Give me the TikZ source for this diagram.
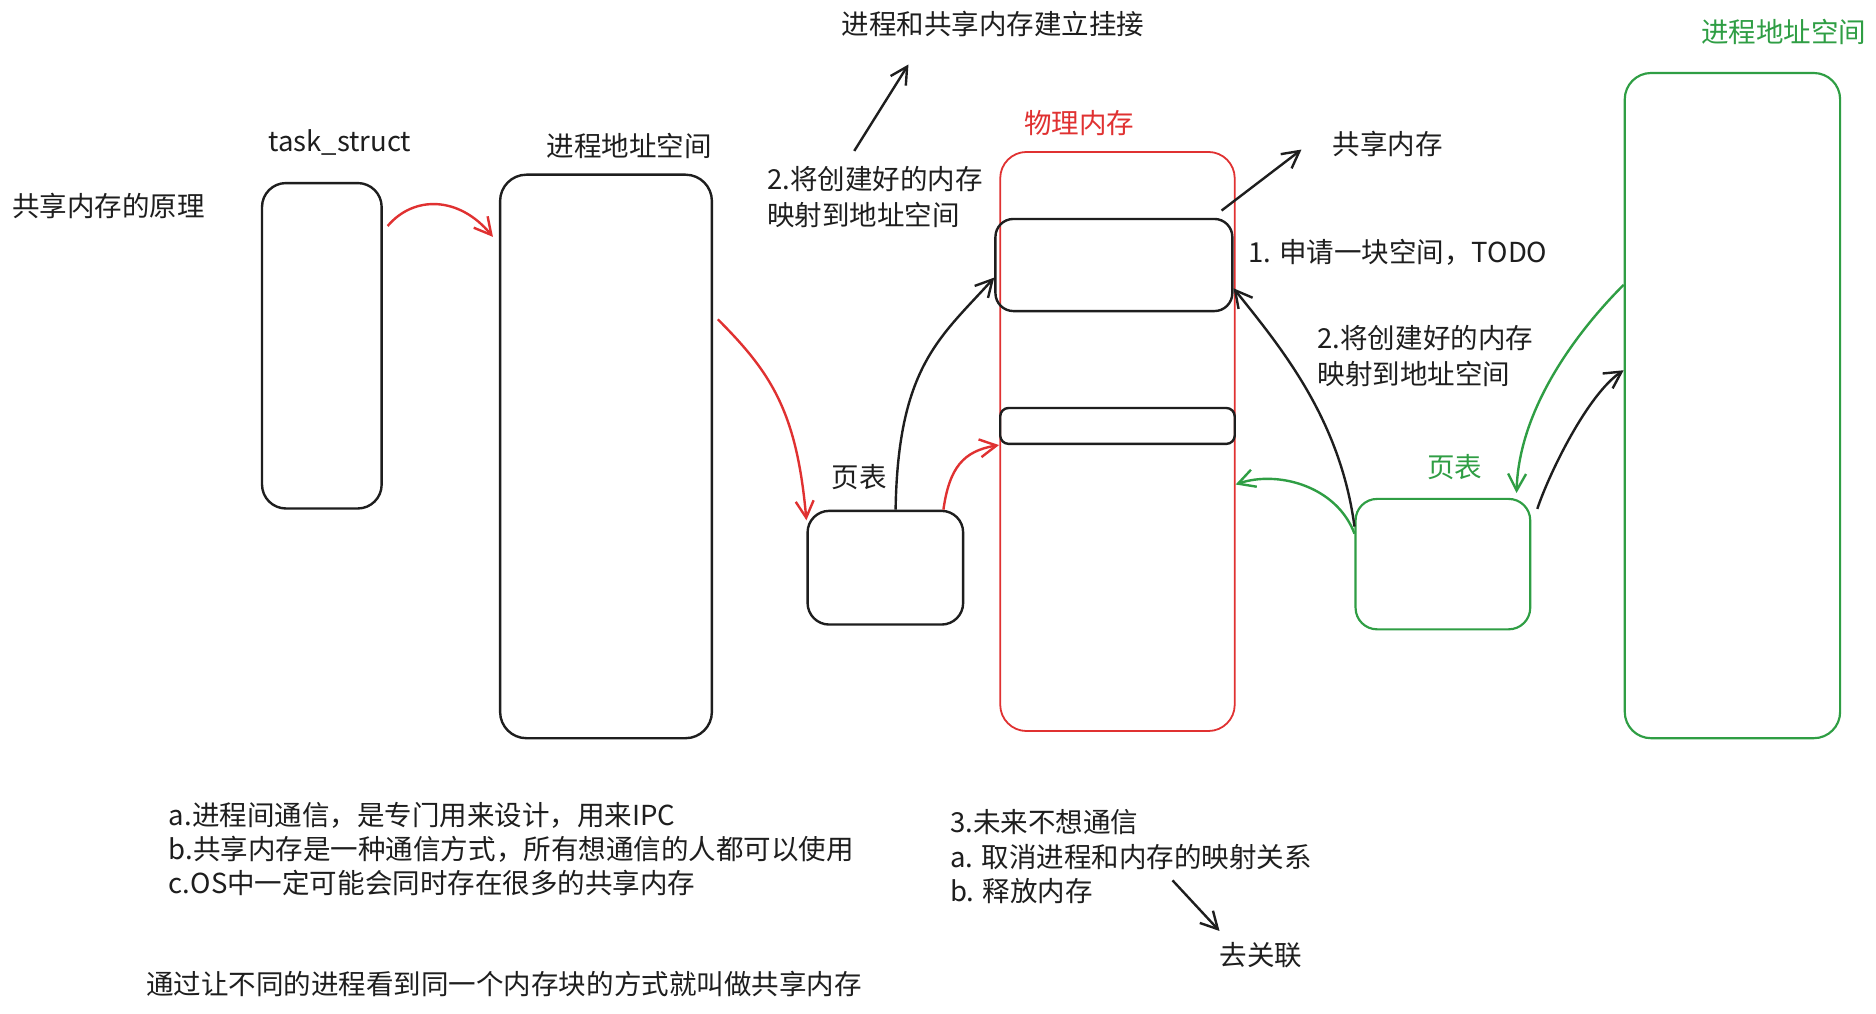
\documentclass[tikz,border=0pt]{standalone}
\usepackage{fontspec}
\setmainfont{Noto Sans CJK SC}
\usepackage{xcolor}
\usepackage{tikz}
\usetikzlibrary{arrows.meta, positioning, calc}

\definecolor{inkblack}{HTML}{1E1E1E}
\definecolor{inkred}{HTML}{E03131}
\definecolor{inkgreen}{HTML}{2F9E44}

\begin{document}
\begin{tikzpicture}[
        x=1pt, y=-1pt,
        font=\fontsize{23}{30}\selectfont,
        base/.style={draw=inkblack, line width=2pt, rounded corners=18pt, inner sep=0pt},
        mem/.style={base, draw=inkred, line width=1.5pt, rounded corners=22pt},
        proc/.style={base, draw=inkgreen, line width=1.8pt},
        lbl/.style={inner sep=0pt, text=inkblack},
        note/.style={lbl, anchor=west, align=left},
        arrow/.style={draw=inkblack, line width=2pt, -{Straight Barb[length=14pt,width=15pt]}},
        redarrow/.style={arrow, draw=inkred},
        greenarrow/.style={arrow, draw=inkgreen}
    ]

        \fill[white] (0,0) rectangle (1568,847);
        \useasboundingbox (0,0) rectangle (1568,847);

        % Blocos
        \node[base, minimum width=100pt, minimum height=272pt, rounded corners=20pt] (task) at (269,289) {};
        \node[base, minimum width=177pt, minimum height=471pt, rounded corners=22pt] (addr) at (506.5,381.5) {};
        \node[base, minimum width=130pt, minimum height=95pt] (pt) at (740,474.5) {};
        \node[mem, minimum width=196pt, minimum height=484pt] (phys) at (934,369) {};
        \node[base, minimum width=198pt, minimum height=77pt, rounded corners=15pt] (shm) at (931,221.5) {};
        \node[base, minimum width=196pt, minimum height=30pt, rounded corners=7pt] (blk) at (934,356) {};
        \node[proc, minimum width=146pt, minimum height=109pt] (gpt) at (1206,471.5) {};
        \node[proc, minimum width=180pt, minimum height=556pt, rounded corners=22pt] (gaddr) at (1448,339) {};

        % Textos
        \node[note] (title) at (10,172) {共享内存的原理};
        \node[lbl] (tasklbl) at (284,119) {task\_struct};
        \node[lbl] (addrlbl) at (526,122) {进程地址空间};
        \node[lbl] (ptlbl) at (718,399) {页表};
        \node[note] (mapl) at (641,165) {2.将创建好的内存\\映射到地址空间};
        \node[lbl] (linklbl) at (830,20) {进程和共享内存建立挂接};
        \node[lbl, text=inkred] (physlbl) at (902,103) {物理内存};
        \node[lbl] (shmlbl) at (1160,120) {共享内存};
        \node[note] (step1) at (1043,211) {1. 申请一块空间，TODO};
        \node[note] (map2) at (1101,297.5) {2.将创建好的内存\\映射到地址空间};
        \node[lbl, text=inkgreen] (gptlbl) at (1216,390) {页表};
        \node[lbl, text=inkgreen] (gaddrlbl) at (1491,27) {进程地址空间};
        \node[note, font=\fontsize{23}{28.5}\selectfont] (notes) at (141,709.5) {a.进程间通信，是专门用来设计，用来IPC\\b.共享内存是一种通信方式，所有想通信的人都可以使用\\c.OS中一定可能会同时存在很多的共享内存};
        \node[note] (summary) at (122,822) {通过让不同的进程看到同一个内存块的方式就叫做共享内存};
        \node[note, font=\fontsize{23}{29}\selectfont] (step3) at (794,716) {3.未来不想通信\\a. 取消进程和内存的映射关系\\b. 释放内存};
        \node[lbl] (unlink) at (1054,798) {去关联};

        % Setas
        \draw[redarrow] ([xshift=4pt]task.63) .. controls +(22,-26) and +(-28,-34) .. ([xshift=-5pt]addr.116);
        \draw[redarrow] ([xshift=4pt]addr.52) .. controls +(45,45) and +(-8,-90) .. (pt.149);
        \draw[arrow] (pt.80) .. controls +(2,-120) and +(-45,50) .. (shm.186);
        \draw[redarrow] (pt.45) .. controls +(5,-35) and +(-30,5) .. (blk.south west);
        \draw[arrow] ($(mapl.north west)+(73,-13)$) -- ($(linklbl.south west)+(56,23)$);
        \draw[arrow] ($(shm.north east)+(-10,-6)$) -- ($(shmlbl.west)+(-26,5)$);
        \draw[arrow] (gpt.157) .. controls +(-12,-90) and +(40,50) .. (shm.349);
        \draw[greenarrow] (gpt.161) .. controls +(-15,-40) and +(35,-12) .. (phys.340);
        \draw[greenarrow] (gaddr.132) .. controls +(-40,40) and +(2,-70) .. ([yshift=4pt]gpt.42);
        \draw[arrow] ([xshift=5pt]gpt.32) .. controls +(10,-30) and +(-30,20) .. (gaddr.162);
        \draw[arrow] ($(step3.south west)+(186,-20)$) -- ($(unlink.north west)+(0,-9)$);

    \end{tikzpicture}
\end{document}
